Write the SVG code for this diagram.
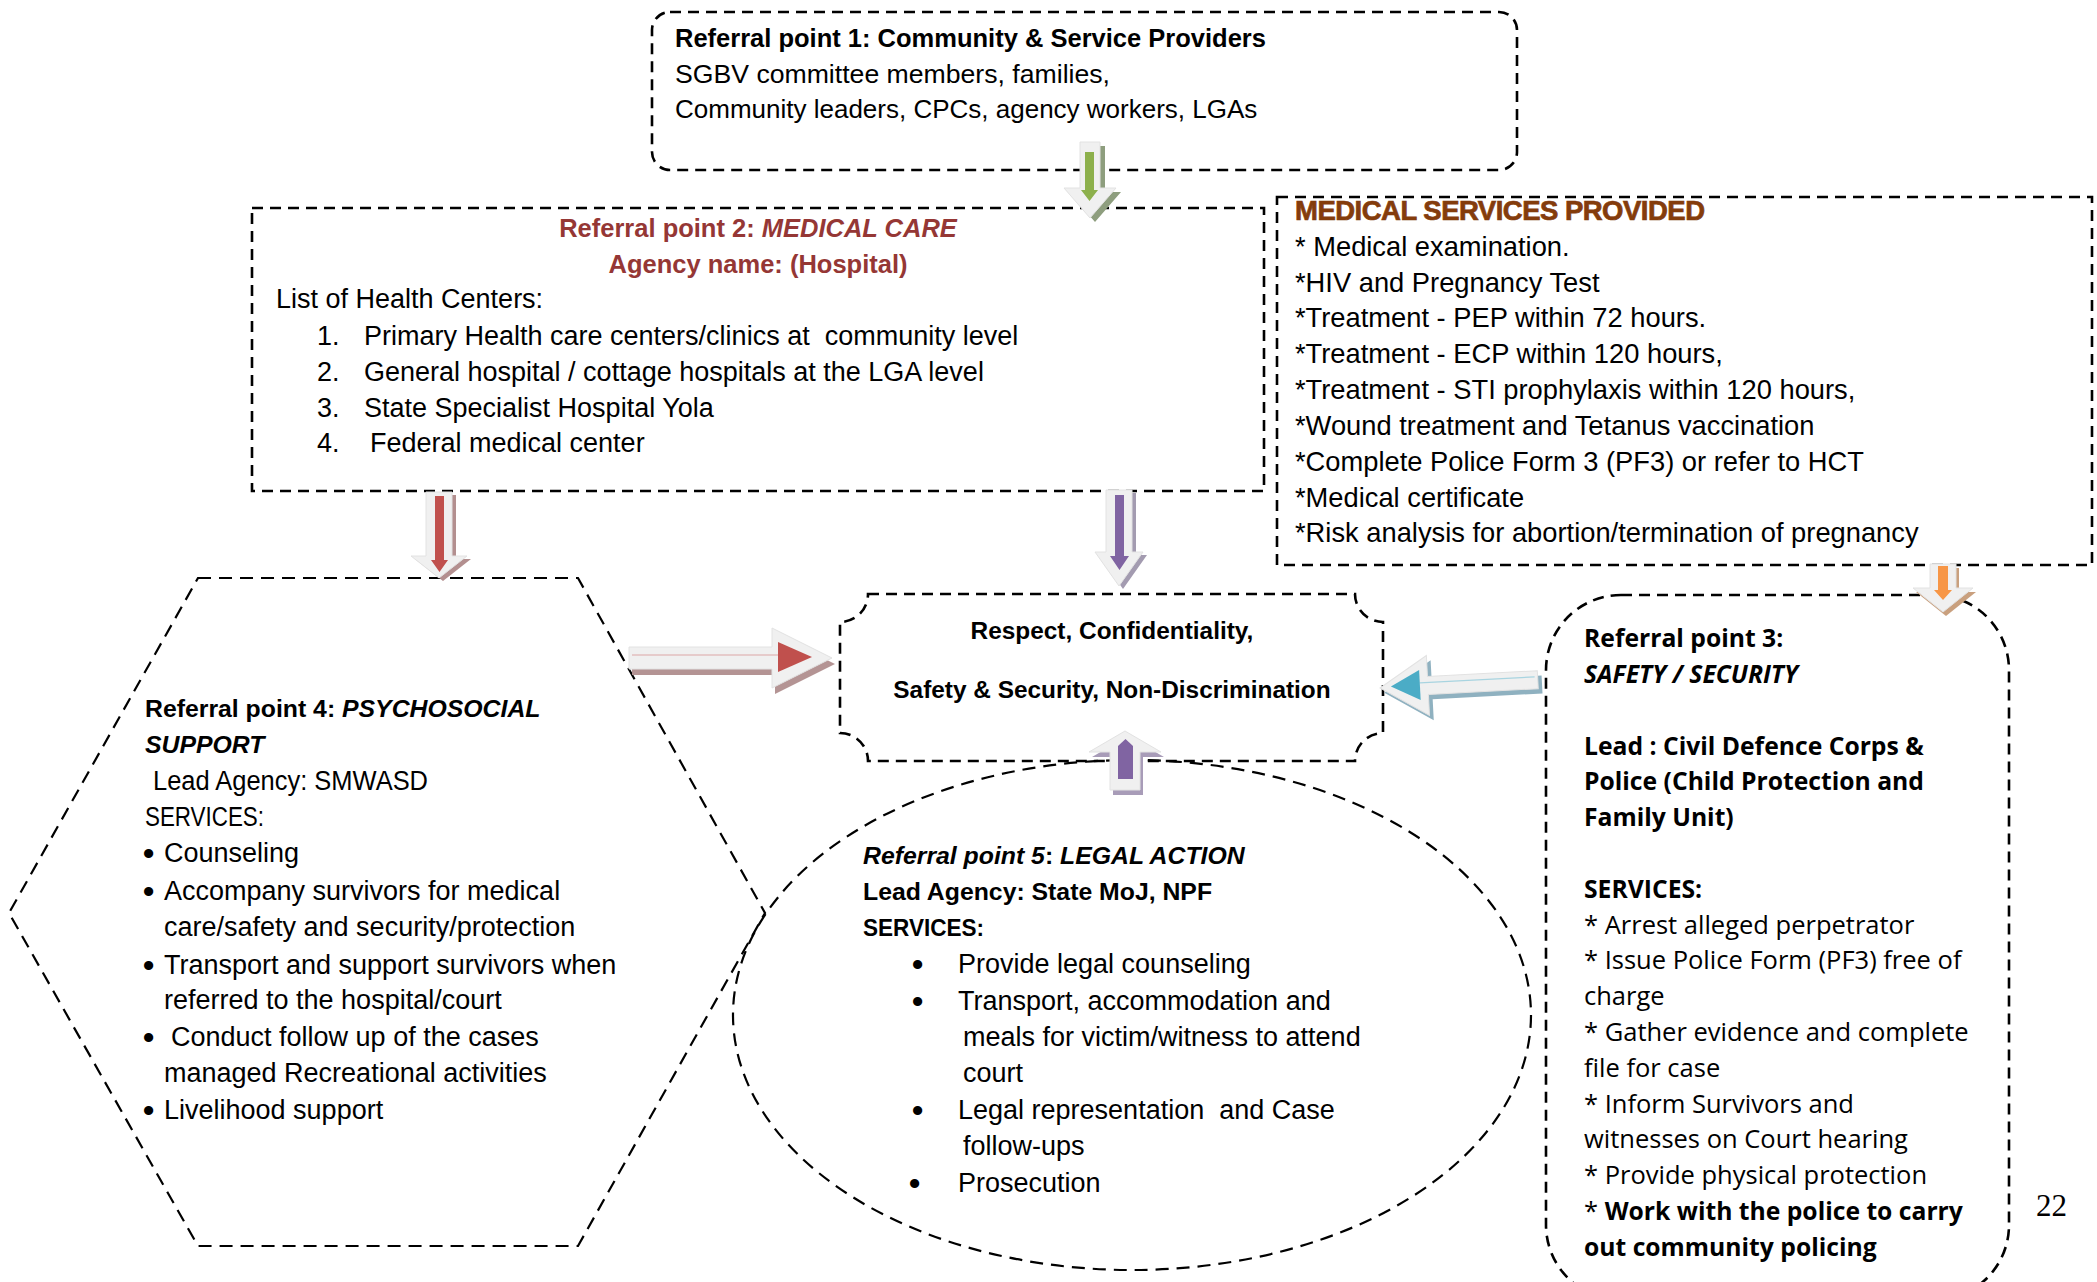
<svg xmlns="http://www.w3.org/2000/svg" width="2097" height="1282" viewBox="0 0 2097 1282">
<style>
.box{fill:none;stroke:#000;stroke-width:2.6;stroke-dasharray:11 7}
.shp{fill:none;stroke:#000;stroke-width:2.2;stroke-dasharray:13 8}
.t{font-family:"Liberation Sans",Arial,sans-serif;font-size:27px;fill:#000}
.m{font-size:27.3px}
.s26{font-size:26px}
.s25{font-size:25.5px}
.s24{font-size:24.8px}
.b{font-weight:bold}
.i{font-style:italic}
.pre{white-space:pre}
.bul{font-family:"Liberation Sans",Arial,sans-serif;font-size:32px;font-weight:bold;fill:#000}
.red{fill:#953735}
.os{font-family:"Open Sans","Liberation Sans",sans-serif;font-size:25.5px;fill:#000}
.osb{font-family:"Open Sans","Liberation Sans",sans-serif;font-size:24.7px;font-weight:bold;fill:#000}
.ctr{font-family:"Liberation Sans",Arial,sans-serif;font-weight:bold;font-size:24.4px;text-anchor:middle;fill:#000}
.light{fill:#f0f0f0;stroke:#e2e2e2;stroke-width:1}
</style>
<rect width="2097" height="1282" fill="#fff"/>

<g id="referral-point-1">
<rect class="box" x="652" y="12" width="865" height="158" rx="18"/>
<text class="t s25 b" x="675" y="47">Referral point 1: Community &amp; Service Providers</text>
<text class="t s26" x="675" y="83" textLength="435" lengthAdjust="spacingAndGlyphs">SGBV committee members, families,</text>
<text class="t s26" x="675" y="118">Community leaders, CPCs, agency workers, LGAs</text>
</g>

<g id="referral-point-2">
<rect class="box" x="252" y="208" width="1012" height="283"/>
<text class="t s25 b red" x="758" y="237" text-anchor="middle">Referral point 2: <tspan class="i">MEDICAL CARE</tspan></text>
<text class="t s25 b red" x="758" y="273" text-anchor="middle">Agency name: (Hospital)</text>
<text class="t" x="276" y="308">List of Health Centers:</text>
<text class="t" x="317" y="345">1.</text><text class="t pre" x="364" y="345">Primary Health care centers/clinics at  community level</text>
<text class="t" x="317" y="381">2.</text><text class="t" x="364" y="381">General hospital / cottage hospitals at the LGA level</text>
<text class="t" x="317" y="417">3.</text><text class="t" x="364" y="417">State Specialist Hospital Yola</text>
<text class="t" x="317" y="452">4.</text><text class="t" x="370" y="452">Federal medical center</text>
</g>

<g id="medical-services">
<rect class="box" x="1277" y="197" width="815" height="368"/>
<text class="t b" x="1295" y="220" textLength="410" style="font-size:27.5px;fill:#843c0c;stroke:#843c0c;stroke-width:0.7">MEDICAL SERVICES PROVIDED</text>
<text class="t m" x="1295" y="256">* Medical examination.</text>
<text class="t m" x="1295" y="292">*HIV and Pregnancy Test</text>
<text class="t m" x="1295" y="327">*Treatment - PEP within 72 hours.</text>
<text class="t m" x="1295" y="363">*Treatment - ECP within 120 hours,</text>
<text class="t m" x="1295" y="399">*Treatment - STI prophylaxis within 120 hours,</text>
<text class="t m" x="1295" y="435">*Wound treatment and Tetanus vaccination</text>
<text class="t m" x="1295" y="471">*Complete Police Form 3 (PF3) or refer to HCT</text>
<text class="t m" x="1295" y="507">*Medical certificate</text>
<text class="t m" x="1295" y="542">*Risk analysis for abortion/termination of pregnancy</text>
</g>

<g id="principles">
<path class="box" d="M868,594 H1355 A28,28 0 0 0 1383,622 V733 A28,28 0 0 0 1355,761 H868 A28,28 0 0 0 840,733 V622 A28,28 0 0 0 868,594 Z"/>
<text class="ctr" x="1112" y="639">Respect, Confidentiality,</text>
<text class="ctr" x="1112" y="698">Safety &amp; Security, Non-Discrimination</text>
</g>

<g id="referral-point-4">
<polygon class="shp" points="198,578 578,578 765,913 578,1246 198,1246 9,913"/>
<text class="t s24 b" x="145" y="717">Referral point 4: <tspan class="i">PSYCHOSOCIAL</tspan></text>
<text class="t s24 b i" x="145" y="753">SUPPORT</text>
<text class="t" x="153" y="790" textLength="275" lengthAdjust="spacingAndGlyphs">Lead Agency: SMWASD</text>
<text class="t" x="145" y="826" textLength="119" lengthAdjust="spacingAndGlyphs">SERVICES:</text>
<text class="bul" x="143" y="864">•</text><text class="t" x="164" y="862">Counseling</text>
<text class="bul" x="143" y="902">•</text><text class="t" x="164" y="900">Accompany survivors for medical</text>
<text class="t" x="164" y="936">care/safety and security/protection</text>
<text class="bul" x="143" y="976">•</text><text class="t" x="164" y="974">Transport and support survivors when</text>
<text class="t" x="164" y="1009">referred to the hospital/court</text>
<text class="bul" x="143" y="1048">•</text><text class="t" x="171" y="1046">Conduct follow up of the cases</text>
<text class="t" x="164" y="1082">managed Recreational activities</text>
<text class="bul" x="143" y="1121">•</text><text class="t" x="164" y="1119">Livelihood support</text>
</g>

<g id="referral-point-5">
<ellipse class="shp" cx="1132" cy="1015" rx="399" ry="255"/>
<text class="t s24 b i" x="863" y="864">Referral point 5<tspan font-style="normal">: </tspan>LEGAL ACTION</text>
<text class="t s24 b" x="863" y="900">Lead Agency: State MoJ, NPF</text>
<text class="t s24 b" x="863" y="936" textLength="121" lengthAdjust="spacingAndGlyphs">SERVICES:</text>
<text class="bul" x="912" y="975">•</text><text class="t" x="958" y="973">Provide legal counseling</text>
<text class="bul" x="912" y="1012">•</text><text class="t" x="958" y="1010">Transport, accommodation and</text>
<text class="t" x="963" y="1046">meals for victim/witness to attend</text>
<text class="t" x="963" y="1082">court</text>
<text class="bul" x="912" y="1121">•</text><text class="t pre" x="958" y="1119">Legal representation  and Case</text>
<text class="t" x="963" y="1155">follow-ups</text>
<text class="bul" x="909" y="1194">•</text><text class="t" x="958" y="1192">Prosecution</text>
</g>

<g id="referral-point-3">
<rect class="box" x="1546" y="595" width="463" height="705" rx="75" ry="75"/>
<text class="osb" x="1584" y="647">Referral point 3:</text>
<text class="osb i" x="1584" y="683">SAFETY / SECURITY</text>
<text class="osb" x="1584" y="755">Lead : Civil Defence Corps &amp;</text>
<text class="osb" x="1584" y="790">Police (Child Protection and</text>
<text class="osb" x="1584" y="826">Family Unit)</text>
<text class="osb" x="1584" y="898">SERVICES:</text>
<text class="os" x="1584" y="934">* Arrest alleged perpetrator</text>
<text class="os" x="1584" y="969">* Issue Police Form (PF3) free of</text>
<text class="os" x="1584" y="1005">charge</text>
<text class="os" x="1584" y="1041">* Gather evidence and complete</text>
<text class="os" x="1584" y="1077">file for case</text>
<text class="os" x="1584" y="1113">* Inform Survivors and</text>
<text class="os" x="1584" y="1148">witnesses on Court hearing</text>
<text class="os" x="1584" y="1184">* Provide physical protection</text>
<text class="os" x="1584" y="1220">* <tspan font-weight="bold" font-size="24.7px">Work with the police to carry</tspan></text>
<text class="osb" x="1584" y="1256">out community policing</text>
</g>

<text x="2036" y="1216" style="font-family:'Liberation Serif','Times New Roman',serif;font-size:31px;fill:#000">22</text>

<g id="connectors">
<g>
<path d="M1080,142 H1100 V188 H1116 L1090,218 L1064,188 H1080 Z" fill="#8e9e7e" transform="translate(5,4)"/>
<path class="light" d="M1080,142 H1100 V188 H1116 L1090,218 L1064,188 H1080 Z"/>
<path d="M1085,152 H1094 V190 H1098 L1089.5,201 L1081,190 H1085 Z" fill="#8db04c"/>
</g>
<g>
<path d="M426,492 H452 V556 H467 L439,578 L411,556 H426 Z" fill="#b38f8f" transform="translate(4,3)"/>
<path class="light" d="M426,492 H452 V556 H467 L439,578 L411,556 H426 Z"/>
<path d="M435,496 H444 V560 H448 L439.5,572 L431,560 H435 Z" fill="#c0504d"/>
</g>
<g>
<path d="M1106,490 H1132 V552 H1143 L1119,586 L1095,552 H1106 Z" fill="#a39bb0" transform="translate(4,3)"/>
<path class="light" d="M1106,490 H1132 V552 H1143 L1119,586 L1095,552 H1106 Z"/>
<path d="M1115,495 H1124 V556 H1129 L1119.5,570 L1110,556 H1115 Z" fill="#8064a2"/>
</g>
<g>
<path d="M1930,564 H1956 V588 H1973 L1943,612 L1913,588 H1930 Z" fill="#c9a07e" transform="translate(3,4)"/>
<path class="light" d="M1930,564 H1956 V588 H1973 L1943,612 L1913,588 H1930 Z"/>
<path d="M1938,566 H1948 V590 H1952 L1943,600 L1934,590 H1938 Z" fill="#f79646"/>
</g>
<g>
<path d="M629,647 H772 V628 L832,658 L772,688 V669 H629 Z" fill="#b49494" transform="translate(3,6)"/>
<path class="light" d="M629,647 H772 V628 L832,658 L772,688 V669 H629 Z"/>
<line x1="632" y1="655" x2="778" y2="655" stroke="#dba5a5" stroke-width="1.2"/>
<path d="M778,642 L812,657 L778,672 Z" fill="#c0504d"/>
</g>
<g transform="rotate(-3 1380 688)">
<path d="M1538,679 H1428 V658 L1380,688 L1428,718 V697 H1538 Z" fill="#8fb1c0" transform="translate(4,5)"/>
<path class="light" d="M1538,679 H1428 V658 L1380,688 L1428,718 V697 H1538 Z"/>
<line x1="1420" y1="685" x2="1535" y2="685" stroke="#a8d4e0" stroke-width="1.2"/>
<path d="M1391,687 L1420,672 L1420,702 Z" fill="#4bacc6"/>
</g>
<g>
<path d="M1110,790 V752 H1089 L1125,731 L1161,752 H1140 V790 Z" fill="#a89cb8" transform="translate(3,5)"/>
<path class="light" d="M1110,790 V752 H1089 L1125,731 L1161,752 H1140 V790 Z"/>
<path d="M1118,779 V746 L1125.5,739 L1133,746 V779 Z" fill="#8064a2"/>
</g>
</g>
</svg>
